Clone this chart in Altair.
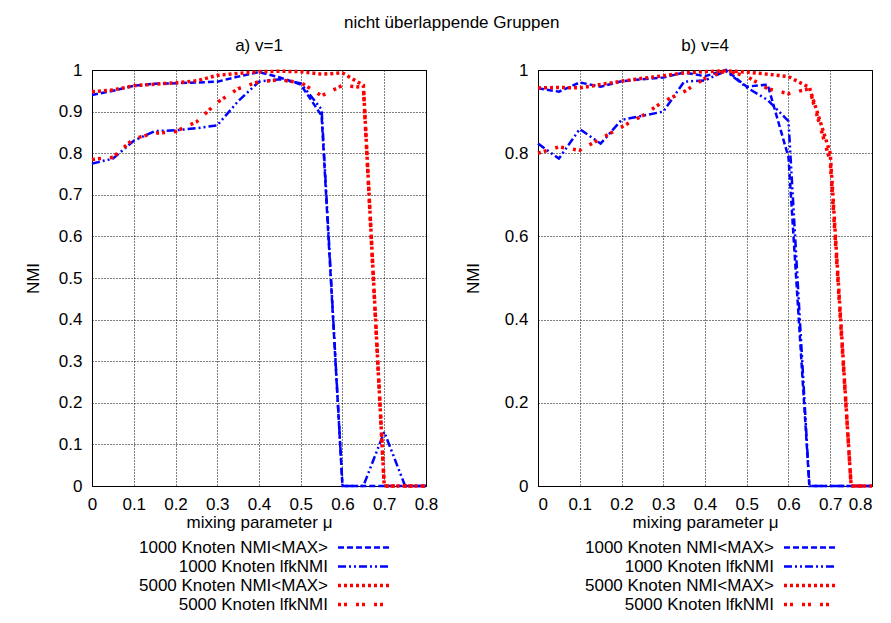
import altair as alt
import pandas as pd

FONT = "Liberation Sans"
FS = 17

mu = [0.0, 0.05, 0.1, 0.15, 0.2, 0.25, 0.3, 0.35, 0.4, 0.45, 0.5, 0.55, 0.6, 0.65, 0.7, 0.75, 0.8]

series_names = ["1000 Knoten NMI<MAX>", "1000 Knoten lfkNMI",
                "5000 Knoten NMI<MAX>", "5000 Knoten lfkNMI"]

# a) v=1
v1_1000_max = [0.940, 0.950, 0.962, 0.967, 0.968, 0.970, 0.972, 0.984, 0.995, 0.982, 0.965, 0.890, 0.0, 0.0, 0.0, 0.0, 0.0]
v1_1000_lfk = [0.775, 0.787, 0.830, 0.853, 0.855, 0.860, 0.867, 0.925, 0.972, 0.978, 0.968, 0.905, 0.0, 0.0, 0.130, 0.0, 0.0]
v1_5000_max = [0.948, 0.952, 0.962, 0.966, 0.969, 0.974, 0.987, 0.992, 0.996, 0.997, 0.996, 0.990, 0.993, 0.963, 0.0, 0.0, 0.0]
v1_5000_lfk = [0.785, 0.790, 0.835, 0.848, 0.852, 0.875, 0.922, 0.955, 0.972, 0.976, 0.970, 0.938, 0.963, 0.958, 0.0, 0.0, 0.0]

# b) v=4
v4_1000_max = [0.956, 0.948, 0.970, 0.960, 0.973, 0.978, 0.982, 0.994, 0.985, 1.000, 0.960, 0.965, 0.790, 0.0, 0.0, 0.0, 0.0]
v4_1000_lfk = [0.823, 0.787, 0.858, 0.823, 0.880, 0.890, 0.900, 0.972, 0.975, 0.998, 0.958, 0.928, 0.877, 0.0, 0.0, 0.0, 0.0]
v4_5000_max = [0.957, 0.958, 0.957, 0.965, 0.973, 0.980, 0.986, 0.993, 0.996, 0.998, 0.995, 0.990, 0.984, 0.958, 0.800, 0.0, 0.0]
v4_5000_lfk = [0.800, 0.815, 0.807, 0.835, 0.863, 0.890, 0.924, 0.948, 0.980, 0.998, 0.985, 0.955, 0.943, 0.955, 0.780, 0.0, 0.0]

x_ticks = [0, 0.1, 0.2, 0.3, 0.4, 0.5, 0.6, 0.7, 0.8]
y_ticks_a = [0, 0.1, 0.2, 0.3, 0.4, 0.5, 0.6, 0.7, 0.8, 0.9, 1]
y_ticks_b = [0, 0.2, 0.4, 0.6, 0.8, 1]

colors = ["#0000ff", "#0000ff", "#ff0000", "#ff0000"]
dashes = [[6, 3], [8, 3, 2, 3, 2, 3], [3, 3], [3, 3, 3, 9]]
widths = [2.5, 2.5, 3.5, 3.5]

W, H = 334, 416
LEG_STEP = 19


def panel(title, series_values, y_ticks, title_pad, flush):
    x = alt.X("mu:Q", scale=alt.Scale(domain=[0, 0.8], nice=False),
              axis=alt.Axis(values=x_ticks, format="~g", labelFlush=flush,
                            title="mixing parameter μ", labelPadding=10,
                            titlePadding=2.5))
    y = alt.Y("nmi:Q", scale=alt.Scale(domain=[0, 1], nice=False),
              axis=alt.Axis(values=y_ticks, format="~g", title="NMI",
                            labelPadding=10, titlePadding=title_pad))
    layers = []
    for vals, c, d, w in zip(series_values, colors, dashes, widths):
        df = pd.DataFrame({"mu": mu, "nmi": vals})
        layers.append(
            alt.Chart(df).mark_line(color=c, strokeDash=d, strokeWidth=w,
                                    strokeCap="butt", strokeJoin="miter")
            .encode(x=x, y=y)
        )
    return alt.layer(*layers).properties(
        width=W, height=H,
        title=alt.TitleParams(title, font=FONT, fontSize=FS, fontWeight="normal",
                              anchor="middle", offset=6.5),
    )


def legend():
    ldf = pd.DataFrame({"series": series_names})
    y = alt.Y("series:N", scale=alt.Scale(domain=series_names), axis=None)
    txt = alt.Chart(ldf).mark_text(align="right", baseline="middle", font=FONT,
                                   fontSize=FS, color="black").encode(
        x=alt.value(236), y=y, text="series:N")
    layers = [txt]
    for n, c, d, w in zip(series_names, colors, dashes, widths):
        layers.append(
            alt.Chart(pd.DataFrame({"series": [n]}))
            .mark_rule(color=c, strokeDash=d, strokeWidth=w, strokeCap="butt")
            .encode(x=alt.value(246), x2=alt.value(297), y=y)
        )
    return alt.layer(*layers).properties(
        width=W, height=4 * LEG_STEP, view=alt.ViewBackground(stroke="transparent"))


left = alt.vconcat(
    panel("a) v=1", [v1_1000_max, v1_1000_lfk, v1_5000_max, v1_5000_lfk], y_ticks_a, 16, False),
    legend(), spacing=6)
right = alt.vconcat(
    panel("b) v=4", [v4_1000_max, v4_1000_lfk, v4_5000_max, v4_5000_lfk], y_ticks_b, 21.5, 5),
    legend(), spacing=6)

chart = alt.hconcat(left, right, spacing=25).properties(
    title=alt.TitleParams("nicht überlappende Gruppen", font=FONT, fontSize=FS,
                          fontWeight="normal", anchor="middle", offset=4),
    padding={"left": 15, "top": 6, "right": 0, "bottom": 0},
).configure_view(
    stroke="black", strokeWidth=1
).configure_axis(
    labelFont=FONT, labelFontSize=FS, labelColor="black",
    titleFont=FONT, titleFontSize=FS, titleFontWeight="normal", titleColor="black",
    domainColor="black", domainWidth=1,
    ticks=False, tickSize=0,
    grid=True, gridColor="black", gridDash=[1, 2], gridWidth=1, gridOpacity=1,
).configure_title(color="black")

chart.save("out.html", embed_options={"renderer": "svg", "actions": False})
